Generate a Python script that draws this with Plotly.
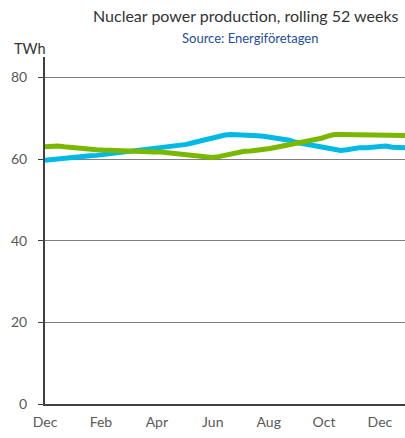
import plotly.graph_objects as go

weeks = list(range(57))
green_twh = [63.0, 63.2, 63.2, 63.0, 62.8, 62.7, 62.5, 62.4, 62.3, 62.2,
             62.1, 62.0, 61.9, 61.9, 61.8, 61.8, 61.8, 61.7, 61.7, 61.5,
             61.3, 61.2, 60.9, 60.7, 60.6, 60.4, 60.4, 60.6, 61.0, 61.3,
             61.6, 61.9, 62.0, 62.1, 62.3, 62.6, 62.9, 63.2, 63.4, 63.8,
             64.1, 64.3, 64.6, 65.1, 65.6, 66.0, 66.0, 66.0, 65.8, 65.9,
             65.7, 66.0, 65.8, 65.8, 65.8, 65.8, 65.8]
blue_twh = [59.7, 59.9, 60.1, 60.3, 60.5, 60.6, 60.7, 60.8, 60.9, 61.1,
            61.3, 61.5, 61.7, 61.9, 62.0, 62.1, 62.2, 62.4, 62.6, 62.8,
            63.1, 63.4, 63.6, 64.0, 64.4, 64.9, 65.3, 65.6, 65.9, 66.0,
            66.0, 65.9, 65.8, 65.7, 65.6, 65.4, 65.2, 64.9, 64.6, 64.1,
            63.8, 63.5, 63.2, 62.9, 62.6, 62.3, 62.1, 62.3, 62.6, 62.8,
            62.8, 63.0, 63.3, 63.2, 62.9, 62.9, 62.8]
month_tick_weeks = [0, 8.7, 17.4, 26.1, 34.8, 43.4, 52.1]
month_tick_labels = ["Dec", "Feb", "Apr", "Jun", "Aug", "Oct", "Dec"]
y_ticks = [0, 20, 40, 60, 80]

FONT = "Lato"
fig = go.Figure()
fig.add_trace(go.Scatter(x=weeks, y=blue_twh, mode="lines",
                         line=dict(color="#00b9e4", width=5), showlegend=False))
fig.add_trace(go.Scatter(x=weeks, y=green_twh, mode="lines",
                         line=dict(color="#7ab800", width=5), showlegend=False))

fig.update_layout(
    width=405, height=438,
    margin=dict(l=45, r=0, t=57, b=34),
    plot_bgcolor="white", paper_bgcolor="white",
    font=dict(family=FONT, color="#595959", size=14),
    xaxis=dict(range=[0, 56], tickvals=month_tick_weeks, ticktext=month_tick_labels,
               showgrid=False, zeroline=False, showline=True, linecolor="#404040",
               linewidth=2, ticks="", ticklabelstandoff=4,
               tickfont=dict(size=14, color="#595959")),
    yaxis=dict(range=[0, 85], tickvals=y_ticks, showgrid=True, gridcolor="#7f7f7f",
               gridwidth=1, zeroline=False, showline=True, linecolor="#404040",
               linewidth=2, ticks="outside", ticklen=5, tickcolor="#404040",
               ticklabelstandoff=8, tickfont=dict(size=14, color="#595959")),
    annotations=[
        dict(text="Nuclear power production, rolling 52 weeks", xref="paper", yref="paper",
             x=(91 - 45) / 360, y=(404 - 15) / 347, xanchor="left", yanchor="middle",
             showarrow=False, font=dict(family=FONT, size=16, color="#333333")),
        dict(text="Source: Energiföretagen", xref="paper", yref="paper",
             x=(250 - 45) / 360, y=(404 - 38) / 347, xanchor="center", yanchor="middle",
             showarrow=False, font=dict(family=FONT, size=13, color="#1f4e9a")),
        dict(text="TWh", xref="paper", yref="paper",
             x=(30 - 45) / 360, y=(404 - 48) / 347, xanchor="center", yanchor="middle",
             showarrow=False, font=dict(family=FONT, size=14.5, color="#333333")),
    ],
)
fig.write_html("out.html", config={"displayModeBar": False},
               post_script="document.body.style.margin='0';document.body.style.overflow='hidden';")
